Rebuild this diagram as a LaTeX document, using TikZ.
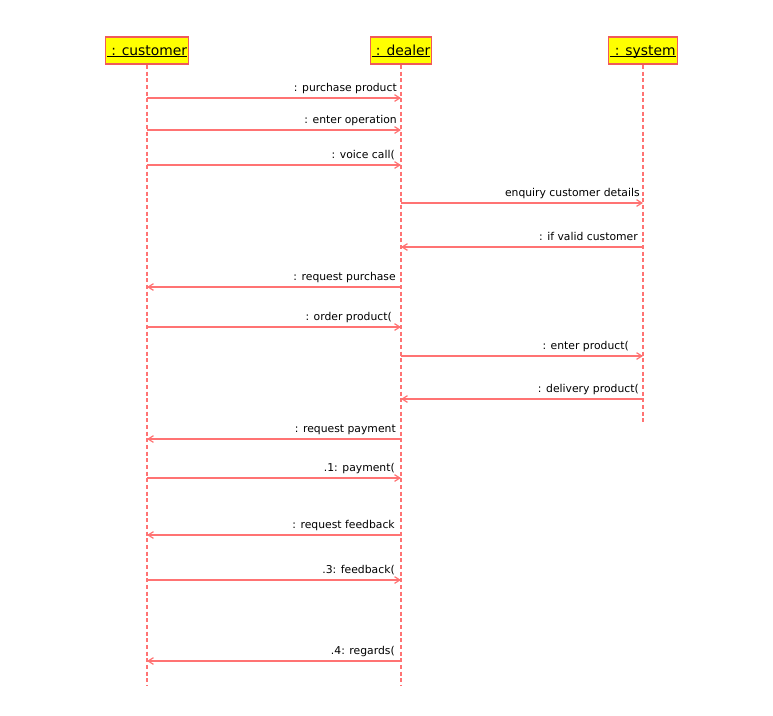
\documentclass[tikz,border=0pt]{standalone}
\usepackage{fontspec}
\setmainfont{DejaVu Sans}
\usetikzlibrary{arrows.meta}
\definecolor{ln}{RGB}{255,115,115}
\definecolor{hd}{RGB}{255,255,0}
\definecolor{hb}{RGB}{240,90,90}
\newcommand\myul[1]{\setbox0\hbox{#1}\rlap{\rule[-1.3pt]{\wd0}{0.75pt}}\box0}
\begin{document}
\begin{tikzpicture}[x=0.75pt,y=-0.75pt,
 head/.style={draw=hb,fill=hd,line width=1.3pt,minimum width=#1,minimum height=20.25pt,inner sep=0pt,text height=9pt,text depth=2.2pt,font=\fontsize{10.4pt}{12pt}\selectfont},
 life/.style={draw=ln,line width=1.5pt,dash pattern=on 3pt off 2pt},
 msg/.style={draw=ln,line width=1.1pt,-{Straight Barb[length=4pt,width=5pt,line width=0.9pt]}},
 lbl/.style={anchor=base east,inner sep=0pt,font=\fontsize{8.1pt}{10pt}\selectfont}]
\useasboundingbox (0,0) rectangle (773,715);
\node[head=62.25pt] (cu) at (147,50.5) {\myul{\ : customer}};
\node[head=45.75pt] (de) at (401,50.5) {\myul{\ : dealer}};
\node[head=51.75pt] (sy) at (643,50.5) {\myul{\ : system}};
\coordinate (endA) at (0,685);
\coordinate (endB) at (0,422);
\draw[life] (cu.south) -- (cu |- endA);
\draw[life] (de.south) -- (de |- endA);
\draw[life] (sy.south) -- (sy |- endB);
\foreach \y/\a/\b/\rx/\t in {
 98/cu/de/397/{: purchase product},
 130/cu/de/397/{: enter operation},
 165/cu/de/395/{: voice call(},
 203/de/sy/640/{enquiry customer details},
 247/sy/de/638/{: if valid customer},
 287/de/cu/396/{: request purchase},
 327/cu/de/392/{: order product(},
 356/de/sy/629/{: enter product(},
 399/sy/de/639/{: delivery product(},
 439/de/cu/396/{: request payment},
 478/cu/de/395/{.1: payment(},
 535/de/cu/395/{: request feedback},
 580/cu/de/395/{.3: feedback(},
 661/de/cu/395/{.4: regards(}}{
 \coordinate (m) at (0,\y);
 \draw[msg] (\a |- m) -- (\b |- m);
 \node[lbl] at (\rx,\y-7) {\t};
}
\end{tikzpicture}
\end{document}
